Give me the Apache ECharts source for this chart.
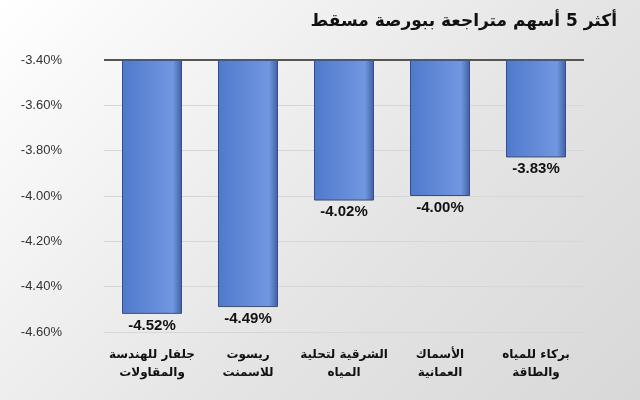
<!DOCTYPE html><html><head><meta charset="utf-8"><script src="https://cdn.jsdelivr.net/npm/echarts@6/dist/echarts.min.js"></script>
<style>html,body{margin:0;background:linear-gradient(135deg,#ffffff,#e4e4e4 60%,#d8d8d8);}#c{width:640px;height:400px}</style></head><body><div id="c"></div><script>
const categories=['جلفار للهندسة\nوالمقاولات','ريسوت\nللاسمنت','الشرقية لتحلية\nالمياه','الأسماك\nالعمانية','بركاء للمياه\nوالطاقة'];
const values=[-4.52,-4.49,-4.02,-4.00,-3.83];
const yTicks=[-4.6,-4.4,-4.2,-4.0,-3.8,-3.6,-3.4];
const ch=echarts.init(document.getElementById('c'));
ch.setOption({
title:{text:'أكثر 5 أسهم متراجعة ببورصة مسقط',right:18,top:8,textStyle:{fontFamily:'DejaVu Sans',fontSize:17,fontWeight:'bold',color:'#111'}},
grid:{left:104,right:56,top:60,bottom:68},
xAxis:{type:'category',data:categories,position:'bottom',axisLine:{show:false},axisTick:{show:false},
axisLabel:{interval:0,fontFamily:'DejaVu Sans',fontWeight:'bold',fontSize:12,color:'#111',lineHeight:18,margin:14}},
yAxis:{type:'value',min:-4.6,max:-3.4,interval:0.2,axisLine:{show:false},axisTick:{show:false},
splitLine:{lineStyle:{color:'#d6d6d6'}},
axisLabel:{formatter:v=>v.toFixed(2)+'%',fontFamily:'Liberation Sans',fontSize:13,color:'#333',margin:42}},
series:[{type:'bar',data:values,barWidth:60,
itemStyle:{color:{type:'linear',x:0,y:0,x2:1,y2:0,colorStops:[{offset:0,color:'#4f79cc'},{offset:0.85,color:'#7197e0'},{offset:1,color:'#3f5f9f'}]},borderColor:'#2f4f8f',borderWidth:1},
label:{show:true,position:'bottom',formatter:p=>p.value.toFixed(2)+'%',fontFamily:'Liberation Sans',fontWeight:'bold',fontSize:15,color:'#111',distance:4},
markLine:{silent:true,symbol:'none',label:{show:false},lineStyle:{color:'#555',type:'solid',width:2},data:[{yAxis:-3.4}]}}]
});
</script></body></html>
